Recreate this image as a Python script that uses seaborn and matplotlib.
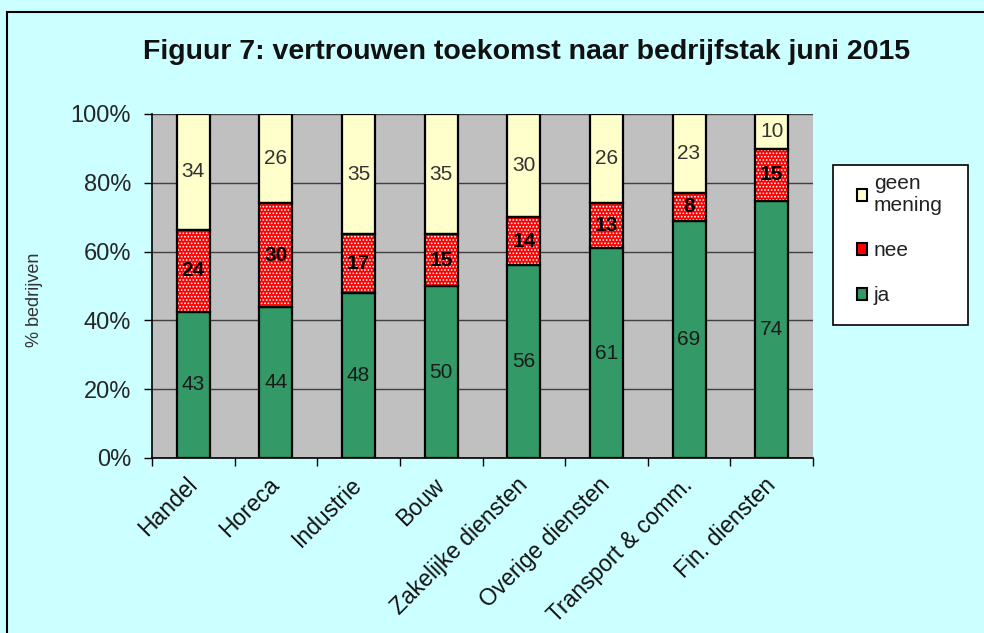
import matplotlib
matplotlib.use("Agg")
import matplotlib.pyplot as plt
from matplotlib.patches import Rectangle, Patch
import seaborn as sns
import pandas as pd

# data
sectors = ["Handel", "Horeca", "Industrie", "Bouw", "Zakelijke diensten",
           "Overige diensten", "Transport & comm.", "Fin. diensten"]
ja = [43, 44, 48, 50, 56, 61, 69, 74]
nee = [24, 30, 17, 15, 14, 13, 8, 15]
geen_mening = [34, 26, 35, 35, 30, 26, 23, 10]
yticks = [0, 20, 40, 60, 80, 100]
ytick_labels = ["0%", "20%", "40%", "60%", "80%", "100%"]

df = pd.DataFrame({"sector": sectors, "ja": ja, "nee": nee, "geen": geen_mening})
tot = df[["ja", "nee", "geen"]].sum(axis=1)
df["ja_p"] = df["ja"] / tot * 100
df["nee_p"] = df["nee"] / tot * 100
df["geen_p"] = df["geen"] / tot * 100

sns.set_style("white")
plt.rcParams["font.family"] = ["Liberation Sans", "DejaVu Sans"]
plt.rcParams["hatch.linewidth"] = 0.8

green = "#339966"
red = "#FF0000"
cream = "#FFFFCC"
bg = "#CCFFFF"

fig = plt.figure(figsize=(9.84, 6.33), dpi=100)
fig.patch.set_facecolor(bg)
ax = fig.add_axes([152 / 984, 1 - 458 / 633, 661 / 984, 344 / 633])
ax.set_facecolor("#C0C0C0")

bw = 0.4
sns.barplot(data=df, x="sector", y="ja_p", color=green, width=bw,
            edgecolor="black", linewidth=1.6, saturation=1, ax=ax, zorder=3)
# red with white dots: hatched layer first, outline on top
sns.barplot(data=df, x="sector", y="nee_p", bottom=df["ja_p"], color=red,
            width=bw, saturation=1, ax=ax, zorder=3)
for p in ax.containers[-1]:
    p.set_hatch(".....")
    p.set_edgecolor("white")
    p.set_linewidth(0)
sns.barplot(data=df, x="sector", y="nee_p", bottom=df["ja_p"], color=red,
            width=bw, saturation=1, ax=ax, zorder=4)
for p in ax.containers[-1]:
    p.set_facecolor("none")
    p.set_edgecolor("black")
    p.set_linewidth(1.6)
sns.barplot(data=df, x="sector", y="geen_p", bottom=df["ja_p"] + df["nee_p"],
            color=cream, width=bw, edgecolor="black", linewidth=1.6,
            saturation=1, ax=ax, zorder=3)

# value labels
for i in range(len(df)):
    ax.text(i, df["ja_p"][i] / 2, str(df["ja"][i]), ha="center", va="center",
            fontsize=15, color="#1a1a1a", zorder=5)
    ax.text(i, df["ja_p"][i] + df["nee_p"][i] / 2, str(df["nee"][i]),
            ha="center", va="center", fontsize=15, fontweight="bold",
            color="black", zorder=5)
    ax.text(i, df["ja_p"][i] + df["nee_p"][i] + df["geen_p"][i] / 2,
            str(df["geen"][i]), ha="center", va="center", fontsize=15,
            color="#333333", zorder=5)

ax.set_xlim(-0.5, len(sectors) - 0.5)
ax.set_ylim(0, 100)
ax.set_yticks(yticks)
ax.set_yticklabels(ytick_labels, fontsize=17)
ax.yaxis.grid(True, color="#404040", linewidth=1)
ax.set_axisbelow(True)

ax.set_xticks(range(len(sectors)))
ax.set_xticklabels(sectors, rotation=45, ha="right", va="center",
                   rotation_mode="anchor", fontsize=16.5, color="#111111")
ax.set_xticks([i - 0.5 for i in range(len(sectors) + 1)], minor=True)
ax.tick_params(axis="x", which="major", length=0, pad=17)
ax.tick_params(axis="x", which="minor", length=6, width=1, color="black",
               direction="out", bottom=True)
ax.tick_params(axis="y", length=6, width=1, color="black", direction="out",
               left=True, pad=9)
ax.set_xlabel("")
ax.set_ylabel("% bedrijven", fontsize=13, color="#333333")
ax.yaxis.set_label_coords(-0.165, 0.46)

for s in ["top", "right"]:
    ax.spines[s].set_visible(False)
for s in ["left", "bottom"]:
    ax.spines[s].set_color("black")
    ax.spines[s].set_linewidth(1.2)

fig.text(527 / 984, 1 - 52 / 633,
         "Figuur 7: vertrouwen toekomst naar bedrijfstak juni 2015",
         ha="center", va="center", fontsize=20.5, fontweight="bold",
         color="#111111")

# figure frame
fig.patches.append(Rectangle((7 / 984, -0.05), 1.1, 1 - 12 / 633 + 0.05,
                             transform=fig.transFigure, fill=False,
                             edgecolor="black", linewidth=1.5))

# legend box
fig.patches.append(Rectangle((833 / 984, 1 - 325 / 633), 135 / 984, 160 / 633,
                             transform=fig.transFigure, facecolor="white",
                             edgecolor="black", linewidth=1.2))
handles = [Patch(facecolor=cream, edgecolor="black", linewidth=1.5),
           Patch(facecolor=red, edgecolor="black", linewidth=1.5),
           Patch(facecolor=green, edgecolor="black", linewidth=1.5)]
leg = fig.legend(handles, ["geen\nmening", "nee", "ja"], loc="upper left",
                 bbox_to_anchor=(857 / 984, 1 - 174 / 633), frameon=False,
                 fontsize=15, handlelength=0.5, handleheight=0.5,
                 handletextpad=0.3, labelspacing=1.25, borderpad=0,
                 borderaxespad=0)
for t in leg.get_texts():
    t.set_color("#222222")

fig.savefig("out.png", dpi=100, facecolor=bg)
